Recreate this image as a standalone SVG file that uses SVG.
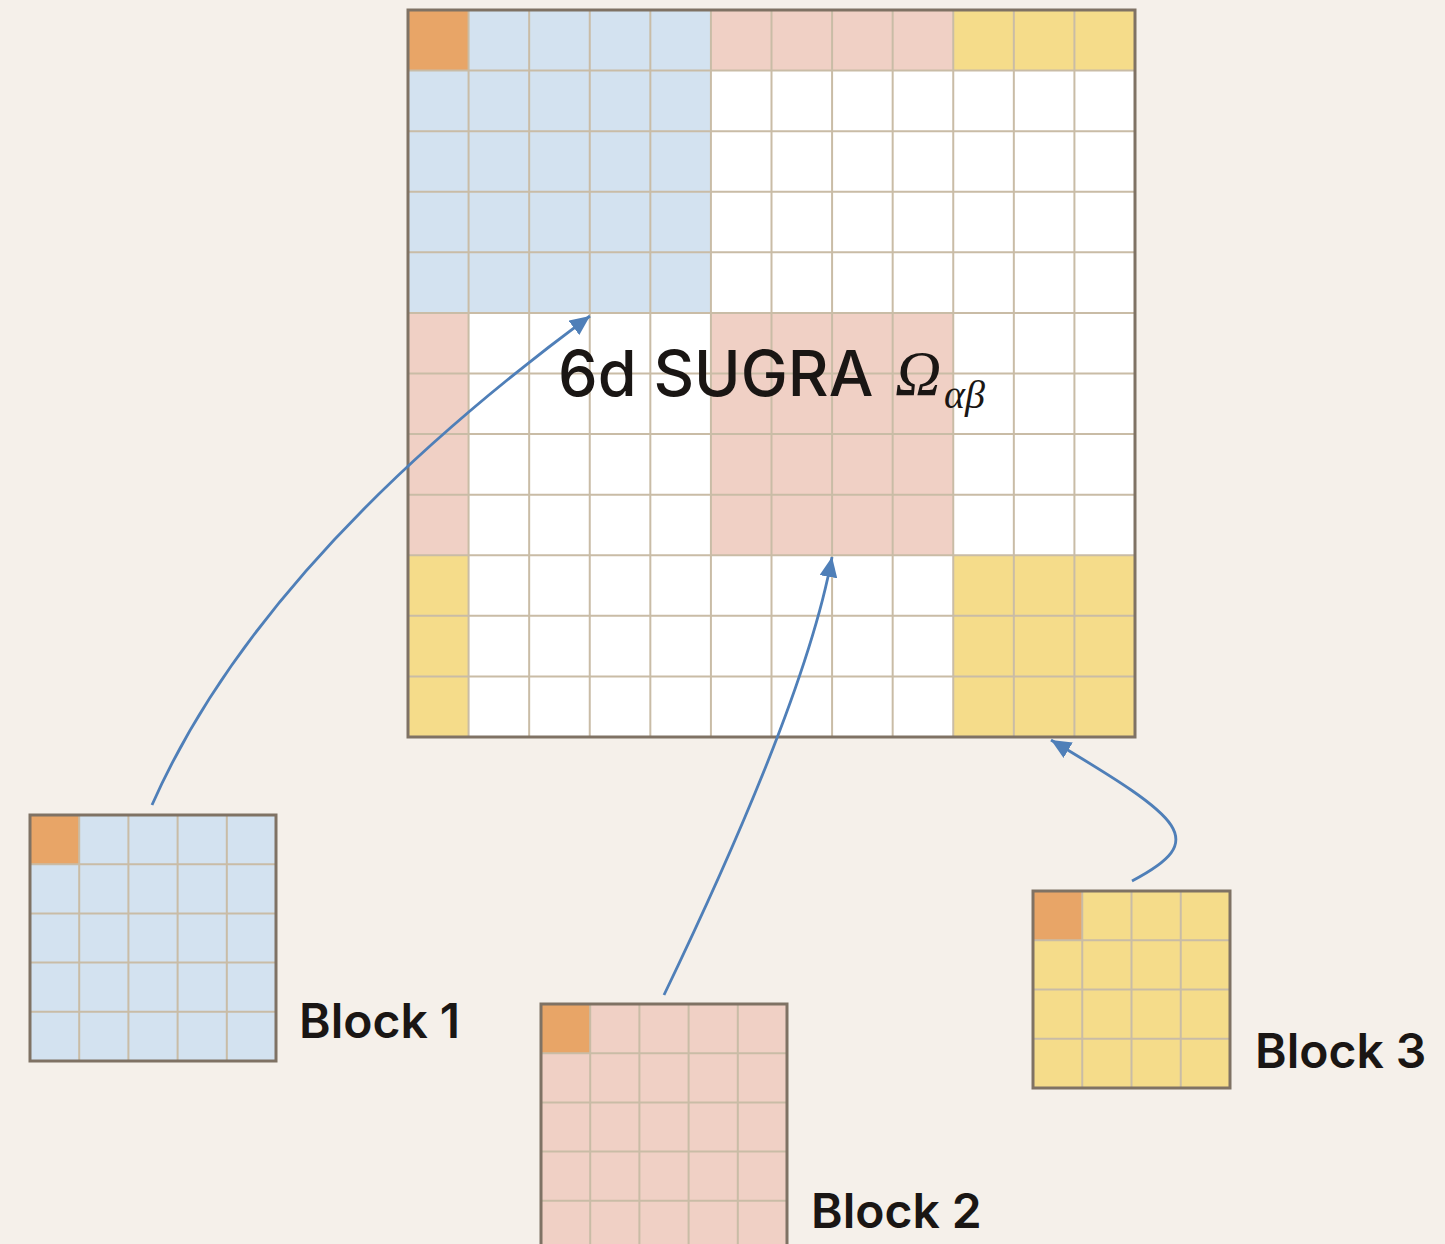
<svg xmlns="http://www.w3.org/2000/svg" width="1445" height="1244" viewBox="0 0 1445 1244">
<style>
.grid{fill:none;stroke:#c9bca6;stroke-width:2}
.border{fill:none;stroke:#7f7264;stroke-width:3}
.blue{fill:#d3e2f0}
.pink{fill:#f0d0c5}
.yellow{fill:#f5dc8a}
.orange{fill:#e8a567}
.white{fill:#ffffff}
.lbl{font-family:Inter,"Liberation Sans",sans-serif;font-weight:600;font-size:48px;fill:#1a1614}
.title{font-family:Inter,"Liberation Sans",sans-serif;font-weight:500;font-size:63px;fill:#1a1614}
.math{font-family:"Liberation Serif","DejaVu Serif",serif;font-style:italic;fill:#1a1614}
.conn{fill:none;stroke:#4f7fb8;stroke-width:2.8}
</style>
<defs>
<marker id="ah" viewBox="0 0 20 18" refX="20" refY="9" markerWidth="20" markerHeight="18" markerUnits="userSpaceOnUse" orient="auto">
<path d="M0,0 L20,9 L0,18 z" fill="#4f7fb8"/>
</marker>
</defs>
<rect width="1445" height="1244" fill="#f5f0ea"/>

<g id="matrix">
<rect class="white" x="408" y="10" width="727" height="727"/>
<rect class="blue" x="408" y="10" width="302.92" height="302.92"/>
<rect class="pink" x="710.92" y="10" width="242.33" height="60.58"/>
<rect class="yellow" x="953.25" y="10" width="181.75" height="60.58"/>
<rect class="pink" x="408" y="312.92" width="60.58" height="242.33"/>
<rect class="yellow" x="408" y="555.25" width="60.58" height="181.75"/>
<rect class="pink" x="710.92" y="312.92" width="242.33" height="242.33"/>
<rect class="yellow" x="953.25" y="555.25" width="181.75" height="181.75"/>
<rect class="orange" x="408" y="10" width="60.58" height="60.58"/>
<path class="grid" d="M468.58,10V737M529.17,10V737M589.75,10V737M650.33,10V737M710.92,10V737M771.5,10V737M832.08,10V737M892.67,10V737M953.25,10V737M1013.83,10V737M1074.42,10V737M408,70.58H1135M408,131.17H1135M408,191.75H1135M408,252.33H1135M408,312.92H1135M408,373.5H1135M408,434.08H1135M408,494.67H1135M408,555.25H1135M408,615.83H1135M408,676.42H1135"/>
<rect class="border" x="408" y="10" width="727" height="727"/>
<text class="title" x="558" y="396">6d SUGRA</text>
<text class="math" x="895" y="395" font-size="64">Ω</text>
<text class="math" x="944" y="408" font-size="40">αβ</text>
</g>

<g id="block1">
<rect class="blue" x="30" y="815" width="246" height="246"/>
<rect class="orange" x="30" y="815" width="49.2" height="49.2"/>
<path class="grid" d="M79.2,815V1061M128.4,815V1061M177.6,815V1061M226.8,815V1061M30,864.2H276M30,913.4H276M30,962.6H276M30,1011.8H276"/>
<rect class="border" x="30" y="815" width="246" height="246"/>
<text class="lbl" x="299" y="1038">Block 1</text>
</g>

<g id="block2">
<rect class="pink" x="541" y="1004" width="246" height="246"/>
<rect class="orange" x="541" y="1004" width="49.2" height="49.2"/>
<path class="grid" d="M590.2,1004V1250M639.4,1004V1250M688.6,1004V1250M737.8,1004V1250M541,1053.2H787M541,1102.4H787M541,1151.6H787M541,1200.8H787"/>
<rect class="border" x="541" y="1004" width="246" height="246"/>
<text class="lbl" x="811" y="1228">Block 2</text>
</g>

<g id="block3">
<rect class="yellow" x="1033" y="891" width="197" height="197"/>
<rect class="orange" x="1033" y="891" width="49.25" height="49.25"/>
<path class="grid" d="M1082.25,891V1088M1131.5,891V1088M1180.75,891V1088M1033,940.25H1230M1033,989.5H1230M1033,1038.75H1230"/>
<rect class="border" x="1033" y="891" width="197" height="197"/>
<text class="lbl" x="1255" y="1068">Block 3</text>
</g>

<g id="connectors">
<path class="conn" marker-end="url(#ah)" d="M152,805 Q260,560 590,316"/>
<path class="conn" marker-end="url(#ah)" d="M664,995 Q806,700 832,557"/>
<path class="conn" marker-end="url(#ah)" d="M1132,881 C1210,840 1185,820 1051,740"/>
</g>
</svg>
